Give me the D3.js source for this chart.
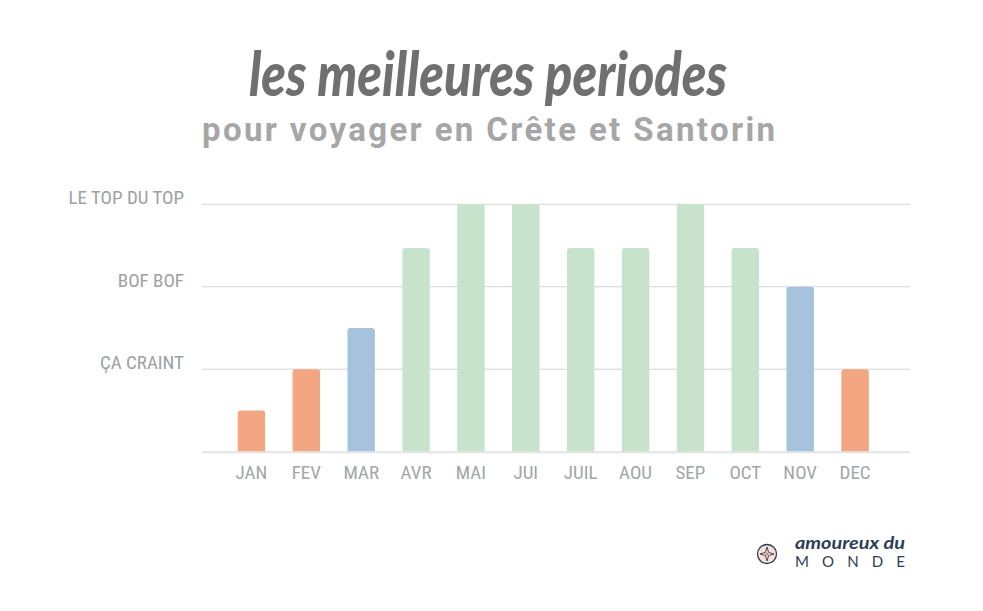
<!DOCTYPE html>
<html>
<head>
<meta charset="utf-8">
<script src="https://cdn.jsdelivr.net/npm/d3@7"></script>
<style>
  body { margin: 0; background: #fff; }
  svg { display: block; }
</style>
</head>
<body>
<svg width="983" height="611"></svg>
<script>
var svg = d3.select("svg"),
    width = +svg.attr("width"),
    height = +svg.attr("height");

// data
var months = ["JAN", "FEV", "MAR", "AVR", "MAI", "JUI", "JUIL", "AOU", "SEP", "OCT", "NOV", "DEC"];
var scores = [0.5, 1, 1.5, 2.47, 3, 3, 2.47, 2.47, 3, 2.47, 2, 1];
var levels = ["bad", "bad", "meh", "good", "good", "good", "good", "good", "good", "good", "meh", "bad"];
var levelTicks = [1, 2, 3];
var levelLabels = ["ÇA CRAINT", "BOF BOF", "LE TOP DU TOP"];

var colors = { bad: "#f4a582", meh: "#a5c3dc", good: "#c7e3cb" };
var condensed = "'Liberation Sans Narrow', 'Roboto Condensed', 'Arial Narrow', Roboto, sans-serif";

var x = d3.scaleBand()
    .domain(months)
    .range([224, 882.5])
    .paddingInner(0.5)
    .paddingOuter(0.25);

var y = d3.scaleLinear()
    .domain([0, 3])
    .range([451.7, 204.3]);

// titles
svg.append("text")
    .attr("x", 488)
    .attr("y", 96)
    .attr("text-anchor", "middle")
    .attr("font-family", "Lato, sans-serif")
    .attr("font-style", "italic")
    .attr("font-weight", 900)
    .attr("font-size", "60px")
    .attr("fill", "#707070")
    .attr("textLength", 478)
    .attr("lengthAdjust", "spacingAndGlyphs")
    .text("les meilleures periodes");

svg.append("text")
    .attr("x", 202)
    .attr("y", 141)
    .attr("font-family", "Roboto, sans-serif")
    .attr("font-weight", 700)
    .attr("font-size", "33px")
    .attr("fill", "#a6a6a6")
    .attr("textLength", 573)
    .attr("lengthAdjust", "spacing")
    .text("pour voyager en Crête et Santorin");

// gridlines + y labels
var grid = svg.append("g");
grid.selectAll("line")
  .data(levelTicks)
  .enter().append("line")
    .attr("x1", 202)
    .attr("x2", 910)
    .attr("y1", function(d) { return y(d); })
    .attr("y2", function(d) { return y(d); })
    .attr("stroke", "#d4d4d4")
    .attr("stroke-width", 1);

grid.selectAll("text")
  .data(levelTicks)
  .enter().append("text")
    .attr("x", 184)
    .attr("y", function(d) { return y(d); })
    .attr("text-anchor", "end")
    .attr("font-family", condensed)
    .attr("font-size", "19px")
    .attr("fill", "#9ba1a4")
    .text(function(d, i) { return levelLabels[i]; });

// bars with rounded tops
function barPath(d, i) {
  var x0 = x(months[i]), w = x.bandwidth(), y0 = y(0), y1 = y(d), r = 3;
  return "M" + x0 + "," + y0 +
         "V" + (y1 + r) +
         "Q" + x0 + "," + y1 + " " + (x0 + r) + "," + y1 +
         "H" + (x0 + w - r) +
         "Q" + (x0 + w) + "," + y1 + " " + (x0 + w) + "," + (y1 + r) +
         "V" + y0 + "Z";
}

svg.append("g")
  .selectAll("path")
  .data(scores)
  .enter().append("path")
    .attr("d", barPath)
    .attr("fill", function(d, i) { return colors[levels[i]]; });

// baseline
svg.append("line")
    .attr("x1", 202)
    .attr("x2", 910)
    .attr("y1", y(0) + 0.5)
    .attr("y2", y(0) + 0.5)
    .attr("stroke", "#e3e3e3")
    .attr("stroke-width", 2);

// x labels
svg.append("g")
  .selectAll("text")
  .data(months)
  .enter().append("text")
    .attr("x", function(d) { return x(d) + x.bandwidth() / 2; })
    .attr("y", 479)
    .attr("text-anchor", "middle")
    .attr("font-family", condensed)
    .attr("font-size", "19px")
    .attr("fill", "#a0a6a9")
    .text(function(d) { return d; });

// logo
var logo = svg.append("g").attr("transform", "translate(767,554)");
logo.append("circle").attr("r", 9.5).attr("fill", "#f8e1d8").attr("stroke", "#2d3d57").attr("stroke-width", 1.3);
logo.append("path")
    .attr("d", "M0,-7 L1.6,-1.6 L7,0 L1.6,1.6 L0,7 L-1.6,1.6 L-7,0 L-1.6,-1.6 Z")
    .attr("fill", "none").attr("stroke", "#2d3d57").attr("stroke-width", 0.9);
logo.append("circle").attr("r", 1.6).attr("fill", "#e8836a");

svg.append("text")
    .attr("x", 795)
    .attr("y", 549)
    .attr("font-family", "Lato, sans-serif")
    .attr("font-style", "italic")
    .attr("font-weight", 700)
    .attr("font-size", "17px")
    .attr("fill", "#2d3d57")
    .attr("textLength", 110)
    .attr("lengthAdjust", "spacingAndGlyphs")
    .text("amoureux du");

svg.append("text")
    .attr("x", 795)
    .attr("y", 567)
    .attr("font-family", "Lato, sans-serif")
    .attr("font-weight", 400)
    .attr("font-size", "15px")
    .attr("fill", "#2d3d57")
    .attr("textLength", 110)
    .attr("lengthAdjust", "spacing")
    .text("MONDE");
</script>
</body>
</html>
